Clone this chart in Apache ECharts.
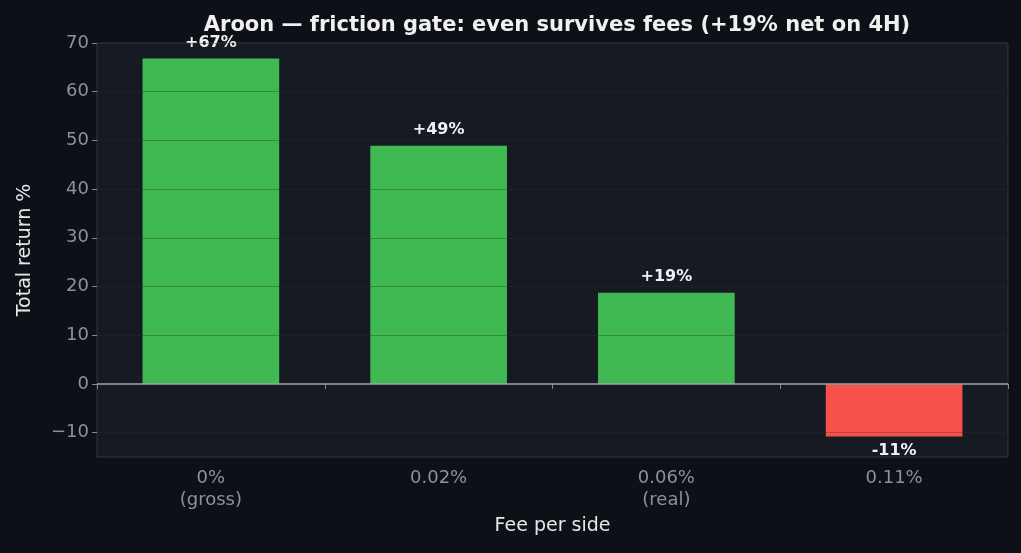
<!DOCTYPE html><html><head><meta charset="utf-8">
<script src="https://cdn.jsdelivr.net/npm/echarts@6/dist/echarts.min.js"></script>
<style>html,body{margin:0;background:#0d1017}#c{width:1021px;height:553px}</style></head><body><div id="c"></div>
<script>
const categories=['0%\n(gross)','0.02%','0.06%\n(real)','0.11%'];
const values=[66.8,48.9,18.7,-10.8];
const labels=['+67%','+49%','+19%','-11%'];
const chart=echarts.init(document.getElementById('c'));
chart.setOption({
 backgroundColor:'#0d1017',
 title:{text:'Aroon — friction gate: even survives fees (+19% net on 4H)',left:552,top:10,textAlign:'center',textStyle:{color:'#f0f0f0',fontSize:21,fontWeight:'bold',fontFamily:'DejaVu Sans'}},
 grid:{left:97,right:13,top:43,bottom:96,show:true,backgroundColor:'#161a22',borderColor:'#30363d',borderWidth:1},
 xAxis:{type:'category',data:categories,name:'Fee per side',nameLocation:'middle',nameGap:60,
  nameTextStyle:{color:'#e6e6e6',fontSize:19,fontFamily:'DejaVu Sans'},
  axisLine:{show:false},axisTick:{show:true,lineStyle:{color:'#888'},length:5},
  axisLabel:{color:'#8b929b',fontSize:18,fontFamily:'DejaVu Sans',lineHeight:22,margin:10}},
 yAxis:{type:'value',min:-15,max:70,interval:10,z:5,name:'Total return %',nameLocation:'middle',nameGap:62,
  nameTextStyle:{color:'#e6e6e6',fontSize:19,fontFamily:'DejaVu Sans'},
  axisLabel:{color:'#8b929b',fontSize:18,fontFamily:'DejaVu Sans',formatter:v=>v<0?'−'+(-v):v,customValues:[-10,0,10,20,30,40,50,60,70]},
  axisTick:{show:true,lineStyle:{color:'#888'},length:5,customValues:[-10,0,10,20,30,40,50,60,70]},
  splitLine:{show:true,lineStyle:{color:'rgba(40,50,40,0.35)',width:1.2}}},
 series:[{type:'bar',z:2,barWidth:'60%',
  data:values.map((v,i)=>({value:v,itemStyle:{color:v>=0?'#41b953':'#f85149'},
   label:{show:true,position:v>=0?'top':'bottom',formatter:labels[i],color:'#f0f0f0',fontWeight:'bold',fontSize:16,fontFamily:'DejaVu Sans',distance:v>=0?8:6}})),
  markLine:{silent:true,symbol:'none',label:{show:false},lineStyle:{color:'#a0a4aa',width:1.5,type:'solid'},data:[{yAxis:0}]}}]
});
</script></body></html>
